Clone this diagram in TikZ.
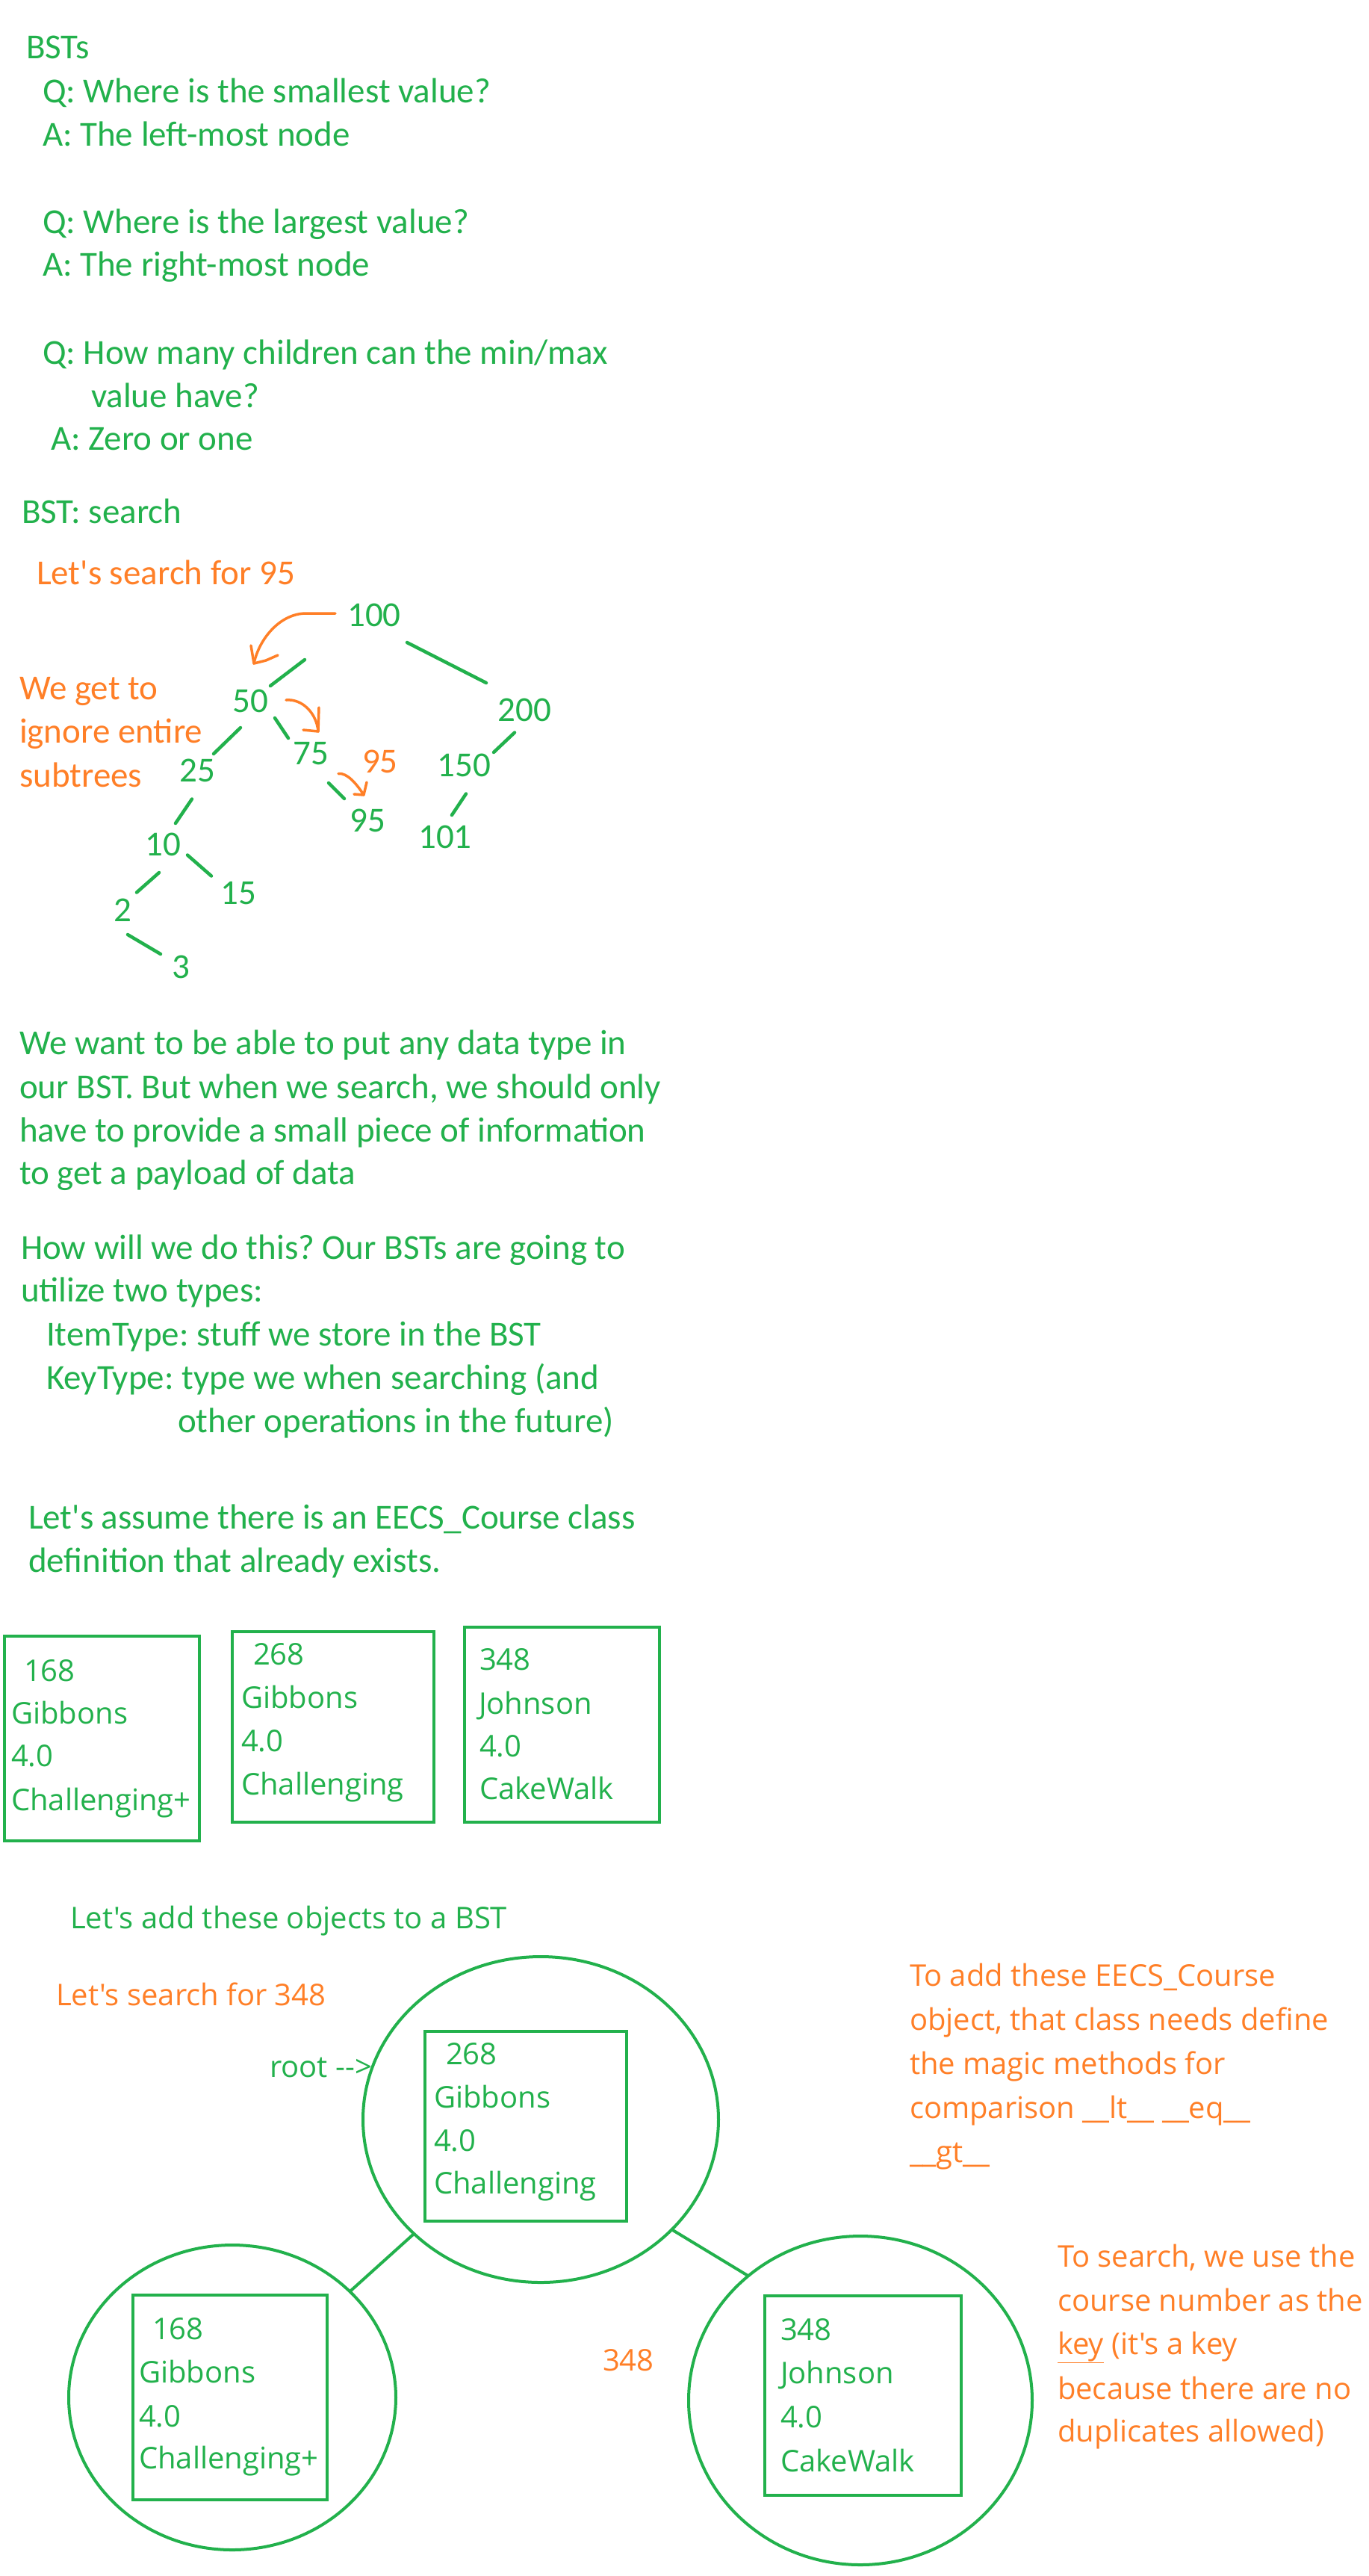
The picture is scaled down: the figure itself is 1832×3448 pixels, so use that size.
\documentclass[tikz,border=0pt]{standalone}
\usepackage{fontspec}
\setmainfont{Carlito}[Ligatures=TeXOff]
\newfontfamily\segoe{Open Sans}
\usetikzlibrary{shapes.geometric,calc}
\definecolor{pgreen}{RGB}{34,177,76}
\definecolor{porange}{RGB}{255,127,39}
\frenchspacing
\tikzset{
 cal/.style={anchor=base west, inner sep=0pt, outer sep=0pt, text=pgreen, font=\fontsize{47}{58}\selectfont},
 calo/.style={cal, text=porange},
 dig/.style={anchor=center, inner sep=0pt, outer sep=0pt, text=pgreen, font=\fontsize{47}{58}\selectfont},
 sg/.style={anchor=base west, inner sep=0pt, outer sep=0pt, text=pgreen, font=\segoe\fontsize{40}{58}\selectfont},
 sgo/.style={sg, text=porange},
 edge/.style={draw=pgreen, line width=4.5pt, line cap=round},
 oarrow/.style={draw=porange, line width=3.5pt, line cap=round, line join=round},
 boxr/.style={draw=pgreen, line width=4.5pt, rectangle, inner sep=0pt, outer sep=0pt},
 circ/.style={draw=pgreen, line width=4pt, ellipse, inner sep=0pt, outer sep=0pt},
 link/.style={draw=pgreen, line width=4pt},
}
\begin{document}
\begin{tikzpicture}[x=1pt,y=-1pt]
\fill[white] (0,0) rectangle (1832,3448);
\useasboundingbox (0,0) rectangle (1832,3448);

% ---- top Q&A ----
\node[cal] (t1) at (35,78) {BSTs};
\node[cal] (t2) at (57,137) {Q: Where is the smallest value?};
\node[cal] (t3) at (57,195) {A: The left-most node};
\node[cal] (t4) at (57,312) {Q: Where is the largest value?};
\node[cal] (t5) at (57,369) {A: The right-most node};
\node[cal] (t6) at (57,487) {Q: How many children can the min/max};
\node[cal] (t7) at (122,545) {value have?};
\node[cal] (t8) at (68,602) {A: Zero or one};
\node[cal] (t9) at (29,700) {BST: search};

% ---- search section ----
\node[calo] (o1) at (49,782) {Let's search for 95};
\node[calo] (o2) at (26,936) {We get to};
\node[calo] (o3) at (26,994) {ignore entire};
\node[calo] (o4) at (26,1053) {subtrees};
\node[calo] (o5) at (485,1034) {95};

\node[dig] (n100) at (501,823.5) {100};
\node[dig] (n50) at (335,938.5) {50};
\node[dig] (n200) at (702.5,950) {200};
\node[dig] (n75) at (416.5,1009) {75};
\node[dig] (n25) at (264.5,1031.5) {25};
\node[dig] (n150) at (621.5,1024.5) {150};
\node[dig] (n95) at (492,1098.5) {95};
\node[dig] (n101) at (596,1120) {101};
\node[dig] (n10) at (218,1130.5) {10};
\node[dig] (n15) at (319.5,1196) {15};
\node[dig] (n2) at (164,1218.5) {2};
\node[dig] (n3) at (242.5,1294.5) {3};

\draw[edge] ($(n100)+(-93,59.5)$) -- ($(n50)+(27,-20.5)$);
\draw[edge] ($(n100)+(44,36.5)$) -- ($(n200)+(-51.5,-36)$);
\draw[edge] ($(n50)+(-13,35.5)$) -- ($(n25)+(21.5,-22.5)$);
\draw[edge] ($(n50)+(33,22.5)$) -- ($(n75)+(-30.5,-21)$);
\draw[edge] ($(n200)+(-13.5,30.5)$) -- ($(n150)+(39.5,-17.5)$);
\draw[edge] ($(n75)+(23.5,39)$) -- ($(n95)+(-31,-29.5)$);
\draw[edge] ($(n150)+(2.5,38)$) -- ($(n101)+(9,-29)$);
\draw[edge] ($(n25)+(-7.5,38)$) -- ($(n10)+(17,-28.5)$);
\draw[edge] ($(n10)+(33,14)$) -- ($(n15)+(-36.5,-23.5)$);
\draw[edge] ($(n10)+(-5,37.5)$) -- ($(n2)+(19,-24)$);
\draw[edge] ($(n2)+(7,32.5)$) -- ($(n3)+(-27.5,-17.5)$);

% orange search arrows
\coordinate (a1s) at (449,821);
\coordinate (a1k) at (410,821);
\coordinate (a1t) at (340,888);
\draw[oarrow] (a1s) -- (a1k) .. controls (375,821) and (347,855) .. (a1t);
\draw[oarrow] ($(a1t)+(-4,-24)$) -- (a1t) -- ($(a1t)+(16,-4)$) -- ($(a1t)+(32,-11)$);

\coordinate (a2s) at (383,937);
\coordinate (a2t) at (426,979);
\draw[oarrow] (a2s) .. controls (405,935) and (424,955) .. (a2t);
\draw[oarrow] ($(a2t)+(-20,-2)$) -- (a2t) -- ($(a2t)+(1,-32)$);

\coordinate (a3s) at (453,1035.5);
\coordinate (a3t) at (487,1064);
\draw[oarrow] (a3s) .. controls (465,1034) and (478,1050) .. (a3t);
\draw[oarrow] ($(a3t)+(-13,-1)$) -- (a3t) -- ($(a3t)+(4,-17)$);

% ---- middle text ----
\node[cal] (m1) at (26,1411) {We want to be able to put any data type in};
\node[cal] (m2) at (26,1470) {our BST. But when we search, we should only};
\node[cal] (m3) at (26,1528) {have to provide a small piece of information};
\node[cal] (m4) at (26,1585.5) {to get a payload of data};
\node[cal] (m5) at (28,1685) {How will we do this? Our BSTs are going to};
\node[cal] (m6) at (28,1742) {utilize two types:};
\node[cal] (m7) at (62,1801) {ItemType: stuff we store in the BST};
\node[cal] (m8) at (62,1859) {KeyType: type we when searching (and};
\node[cal] (m9) at (238,1917) {other operations in the future)};
\node[cal] (m10) at (38,2046) {Let's assume there is an EECS\_Course class};
\node[cal] (m11) at (38,2104) {definition that already exists.};

% ---- object boxes ----
\node[boxr, minimum width=261, minimum height=274] (B1) at (136.5,2327) {};
\node[sg] (b1a) at (32,2250) {168};
\node[sg] (b1b) at (15,2307) {Gibbons};
\node[sg] (b1c) at (15,2364) {4.0};
\node[sg] (b1d) at (15,2423) {Challenging+};

\node[boxr, minimum width=270, minimum height=255] (B2) at (446,2311.5) {};
\node[sg] (b2a) at (339,2228) {268};
\node[sg] (b2b) at (323,2286) {Gibbons};
\node[sg] (b2c) at (323,2344) {4.0};
\node[sg] (b2d) at (323,2402) {Challenging};

\node[boxr, minimum width=261, minimum height=261] (B3) at (752.5,2308.5) {};
\node[sg] (b3a) at (642,2235) {348};
\node[sg] (b3b) at (641,2294) {Johnson};
\node[sg] (b3c) at (642,2351) {4.0};
\node[sg] (b3d) at (642,2408) {CakeWalk};

% ---- BST of objects ----
\node[sg] (add) at (94,2581) {Let's add these objects to a BST};
\node[sgo] (s348) at (75,2684) {Let's search for 348};
\node[sg] (root) at (361,2780) {root -->};

\node[circ, minimum width=476, minimum height=436] (C1) at (724,2837) {};
\node[circ, minimum width=438, minimum height=408] (C2) at (311,3209) {};
\node[circ, minimum width=460, minimum height=440] (C3) at (1152,3213) {};
\draw[link] (C1) -- (C2);
\draw[link] (C1.-40) -- (C3.132);

\node[boxr, minimum width=270, minimum height=254] (IB1) at (704,2846) {};
\node[sg] (i1a) at (597,2763) {268};
\node[sg] (i1b) at (581,2821) {Gibbons};
\node[sg] (i1c) at (581,2879) {4.0};
\node[sg] (i1d) at (581,2936) {Challenging};

\node[boxr, minimum width=260, minimum height=274] (IB2) at (308,3209) {};
\node[sg] (i2a) at (204,3131) {168};
\node[sg] (i2b) at (186,3189) {Gibbons};
\node[sg] (i2c) at (186,3248) {4.0};
\node[sg] (i2d) at (186,3304) {Challenging+};

\node[boxr, minimum width=263, minimum height=267] (IB3) at (1155.5,3206.5) {};
\node[sg] (i3a) at (1045,3132) {348};
\node[sg] (i3b) at (1045,3190) {Johnson};
\node[sg] (i3c) at (1045,3249) {4.0};
\node[sg] (i3d) at (1045,3308) {CakeWalk};

\node[sgo] (k348) at (807,3173) {348};

% ---- right notes ----
\node[sgo] (r1) at (1218,2658) {To add these EECS\_Course};
\node[sgo] (r2) at (1218,2717) {object, that class needs define};
\node[sgo] (r3) at (1218,2776) {the magic methods for};
\node[sgo] (r4) at (1218,2835) {comparison \_\_lt\_\_ \_\_eq\_\_};
\node[sgo] (r5) at (1218,2894) {\_\_gt\_\_};

\node[sgo] (s1) at (1416,3034) {To search, we use the};
\node[sgo] (s2) at (1416,3093) {course number as the};
\node[sgo] (s3) at (1416,3151) {\underline{key} (it's a key};
\node[sgo] (s4) at (1416,3211) {because there are no};
\node[sgo] (s5) at (1416,3268) {duplicates allowed)};
\end{tikzpicture}
\end{document}
